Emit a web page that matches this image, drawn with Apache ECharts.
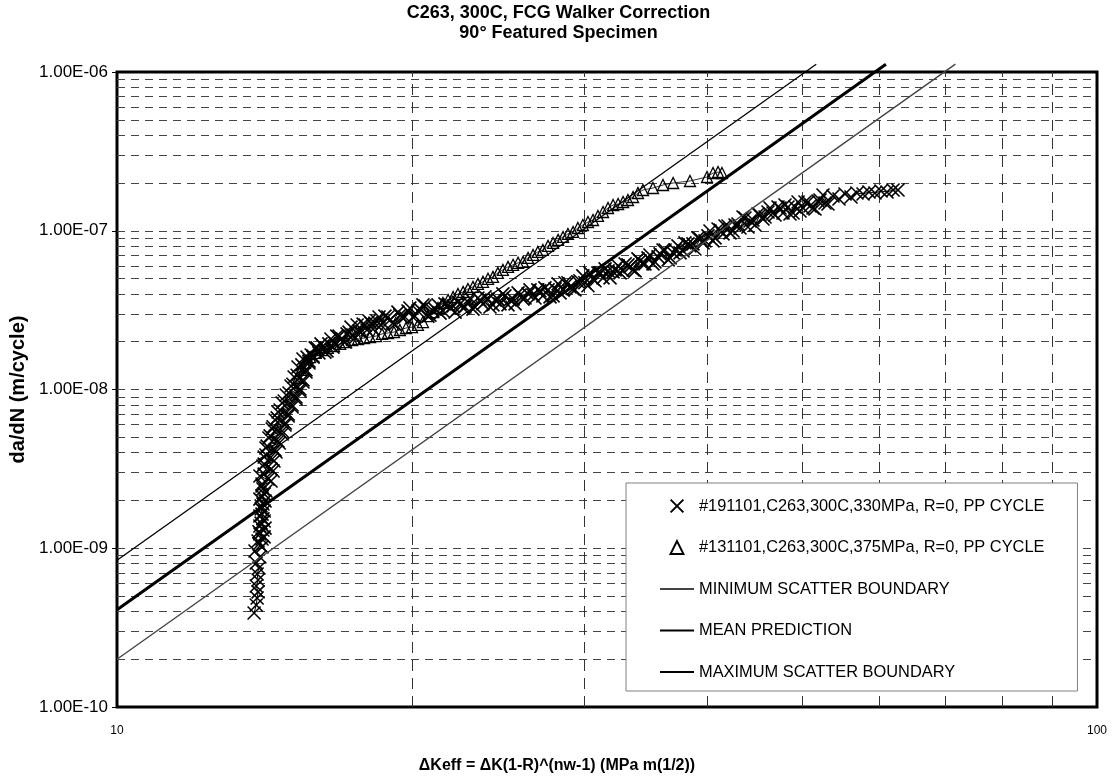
<!DOCTYPE html>
<html>
<head>
<meta charset="utf-8">
<title>C263, 300C, FCG Walker Correction</title>
<script src="https://cdn.jsdelivr.net/npm/echarts@6/dist/echarts.min.js"></script>
<style>
  html, body { margin: 0; padding: 0; background: #fff; }
  #chart { width: 1117px; height: 780px; }
</style>
</head>
<body>
<div id="chart"></div>
<script>
// Specimen #191101 (330 MPa): delta K_eff [MPa m^0.5] and da/dN [m/cycle]
const crossDK = [
  13.80, 13.87, 13.90, 13.93, 13.87, 13.93, 13.90, 13.96, 13.87, 13.99,
  13.83, 14.06, 13.93, 14.13, 13.96, 14.16, 14.03, 14.09, 14.06, 14.03,
  14.09, 13.99, 14.13, 14.09,
  14.06, 14.26, 14.13, 14.36, 14.13, 14.40, 14.19, 14.50, 14.23, 14.60,
  14.33, 14.74, 14.43, 14.85, 14.57, 14.95, 14.67, 15.09, 14.81, 15.23,
  14.98, 15.37, 15.12, 15.48, 15.27, 15.59, 15.44, 15.70, 15.63,
  15.78, 15.93, 16.07, 16.22, 16.38, 16.53, 16.68, 16.85, 17.01, 17.17,
  17.33, 17.49, 17.66, 17.83, 17.99, 18.16, 18.33, 18.51, 18.68, 18.90,
  19.12, 19.35, 19.58, 19.81, 20.04, 20.28, 20.52, 20.76, 21.01, 21.26,
  21.51, 21.77, 22.03, 22.28, 22.55, 22.81, 23.08, 23.35, 23.63, 23.91,
  24.19, 24.47, 24.76, 25.06, 25.36, 25.66, 25.96, 26.27, 26.58, 26.88,
  27.20, 27.53, 27.86, 28.19, 28.52, 28.85, 29.20, 29.53, 29.88, 30.24,
  30.60, 30.96, 31.33, 31.70, 32.08, 32.46, 32.84, 33.22, 33.62, 34.01,
  34.41, 34.82, 35.23, 35.65, 36.07, 36.51, 36.94, 37.36, 37.81, 38.25,
  38.70, 39.16, 39.63, 40.09, 40.57, 41.05, 41.53, 42.02, 42.52, 43.02,
  43.53, 44.04, 44.56, 45.09, 45.62, 46.16, 46.71, 47.26, 47.82, 48.38,
  48.96, 49.54, 50.12, 50.71, 51.31, 51.92, 52.53, 53.15, 53.78, 54.54,
  55.32, 56.10, 56.89, 57.71, 58.52, 59.35, 60.20, 61.05, 61.93, 62.65
];
const crossRate = [
  3.91e-10, 4.39e-10, 4.86e-10, 5.31e-10, 5.78e-10, 6.31e-10, 6.88e-10, 7.51e-10, 8.07e-10, 8.81e-10,
  9.61e-10, 1.02e-9, 1.11e-9, 1.18e-9, 1.27e-9, 1.34e-9, 1.44e-9, 1.53e-9, 1.64e-9, 1.77e-9,
  1.90e-9, 2.04e-9, 2.20e-9, 2.36e-9,
  2.54e-9, 2.73e-9, 2.93e-9, 3.15e-9, 3.39e-9, 3.65e-9, 3.87e-9, 4.16e-9, 4.40e-9, 4.74e-9,
  5.10e-9, 5.48e-9, 5.81e-9, 6.15e-9, 6.62e-9, 7.00e-9, 7.43e-9, 7.98e-9, 8.46e-9, 8.97e-9,
  9.51e-9, 1.007e-8, 1.08e-8, 1.15e-8, 1.23e-8, 1.33e-8, 1.43e-8, 1.51e-8, 1.60e-8,
  1.65e-8, 1.83e-8, 1.70e-8, 1.88e-8, 1.75e-8, 2.08e-8, 1.96e-8, 2.17e-8, 2.02e-8, 2.24e-8,
  2.47e-8, 2.11e-8, 2.33e-8, 2.58e-8, 2.37e-8, 2.62e-8, 2.62e-8, 2.86e-8, 2.62e-8, 2.86e-8,
  2.62e-8, 3.07e-8, 2.82e-8, 3.12e-8, 2.86e-8, 3.12e-8, 3.41e-8, 2.90e-8, 3.12e-8, 3.41e-8,
  3.12e-8, 3.41e-8, 3.36e-8, 3.56e-8, 3.26e-8, 3.56e-8, 3.21e-8, 3.77e-8, 3.46e-8, 3.71e-8,
  3.41e-8, 3.71e-8, 4.00e-8, 3.41e-8, 3.71e-8, 4.06e-8, 3.71e-8, 4.00e-8, 3.94e-8, 4.24e-8,
  3.89e-8, 4.24e-8, 3.89e-8, 4.63e-8, 4.24e-8, 4.70e-8, 4.30e-8, 4.77e-8, 5.20e-8, 4.50e-8,
  4.98e-8, 5.43e-8, 5.05e-8, 5.59e-8, 5.51e-8, 6.01e-8, 5.59e-8, 6.10e-8, 5.67e-8, 6.65e-8,
  6.19e-8, 6.75e-8, 6.19e-8, 6.84e-8, 7.57e-8, 6.55e-8, 7.25e-8, 8.03e-8, 7.46e-8, 8.26e-8,
  8.26e-8, 9.01e-8, 8.38e-8, 9.28e-8, 8.63e-8, 1.026e-7, 9.55e-8, 1.071e-7, 9.97e-8, 1.103e-7,
  1.221e-7, 1.056e-7, 1.169e-7, 1.275e-7, 1.186e-7, 1.313e-7, 1.294e-7, 1.411e-7, 1.294e-7, 1.411e-7,
  1.294e-7, 1.517e-7, 1.391e-7, 1.517e-7, 1.391e-7, 1.540e-7, 1.680e-7, 1.474e-7, 1.655e-7, 1.585e-7,
  1.704e-7, 1.632e-7, 1.729e-7, 1.704e-7, 1.754e-7, 1.729e-7, 1.780e-7, 1.754e-7, 1.806e-7, 1.806e-7
];
// Same specimen, further readings inside the dense part of the band
const crossDK2 = [
  15.85, 16.00, 16.15, 16.30, 16.45, 16.61, 16.76, 16.93, 17.09, 17.25,
  17.41, 17.58, 17.74, 17.91, 18.08, 18.25, 18.42, 18.59, 18.77, 18.99,
  19.21, 19.44, 19.67, 19.90, 20.13, 20.38, 20.62, 20.86, 21.11, 21.36,
  21.61, 21.87, 22.13, 22.39, 22.65, 22.92, 23.19, 23.46, 23.74, 24.02,
  24.30, 24.59, 24.88, 25.18, 25.48, 25.78, 26.08, 26.39, 26.70, 27.01,
  27.33, 27.66, 27.99, 28.32, 28.65, 28.99, 29.33, 29.67, 30.02, 30.38,
  30.74, 31.11, 31.48, 31.85, 32.23, 32.61, 33.00, 33.38, 33.78, 34.17,
  34.57, 34.98, 35.39, 35.82, 36.24, 36.68, 37.11, 37.54, 37.98, 38.43,
  38.88, 39.35, 39.81, 40.28, 40.76, 41.24, 41.73, 42.22, 42.72, 43.22,
  43.73, 44.25, 44.77, 45.30, 45.84, 46.38, 46.93, 47.48, 48.04, 48.61,
  49.18, 49.77, 50.36, 50.95, 51.55, 52.16, 52.78
];
const crossRate2 = [
  1.60e-8, 1.83e-8, 1.94e-8, 1.72e-8, 1.94e-8, 1.85e-8, 2.17e-8, 2.08e-8, 1.99e-8, 2.30e-8,
  2.20e-8, 2.55e-8, 2.30e-8, 2.55e-8, 2.70e-8, 2.40e-8, 2.70e-8, 2.55e-8, 2.90e-8, 2.74e-8,
  2.58e-8, 2.94e-8, 2.86e-8, 3.26e-8, 2.90e-8, 3.21e-8, 3.36e-8, 2.94e-8, 3.21e-8, 3.03e-8,
  3.46e-8, 3.26e-8, 3.07e-8, 3.46e-8, 3.31e-8, 3.77e-8, 3.31e-8, 3.66e-8, 3.83e-8, 3.31e-8,
  3.66e-8, 3.46e-8, 3.89e-8, 3.66e-8, 3.46e-8, 3.94e-8, 3.77e-8, 4.24e-8, 3.77e-8, 4.18e-8,
  4.37e-8, 3.83e-8, 4.30e-8, 4.06e-8, 4.70e-8, 4.43e-8, 4.24e-8, 4.84e-8, 4.70e-8, 5.43e-8,
  4.84e-8, 5.43e-8, 5.75e-8, 5.05e-8, 5.67e-8, 5.43e-8, 6.19e-8, 5.92e-8, 5.59e-8, 6.46e-8,
  6.19e-8, 7.04e-8, 6.37e-8, 7.15e-8, 7.57e-8, 6.75e-8, 7.57e-8, 7.25e-8, 8.38e-8, 8.03e-8,
  7.68e-8, 8.88e-8, 8.63e-8, 9.97e-8, 9.01e-8, 1.011e-7, 1.071e-7, 9.69e-8, 1.087e-7, 1.041e-7,
  1.203e-7, 1.152e-7, 1.087e-7, 1.257e-7, 1.221e-7, 1.391e-7, 1.257e-7, 1.391e-7, 1.453e-7, 1.275e-7,
  1.411e-7, 1.332e-7, 1.517e-7, 1.432e-7, 1.371e-7, 1.562e-7, 1.496e-7
];
// Same specimen, readings in the steep near-threshold part
const crossDK3 = [
  13.96, 14.06, 13.99, 14.09, 13.99, 14.13, 13.99, 14.13, 14.03, 14.16,
  14.06, 14.19, 14.06, 14.36, 13.99, 14.43, 14.09, 14.46, 14.13, 14.53,
  14.19, 14.64, 14.29, 14.74, 14.40, 14.84, 14.50, 14.95, 14.60, 15.09,
  14.74, 15.23, 14.88, 15.37, 15.05, 15.48, 15.16, 15.59, 15.30, 15.70,
  15.48, 15.85
];
const crossRate3 = [
  1.063e-9, 1.144e-9, 1.230e-9, 1.303e-9, 1.381e-9, 1.484e-9, 1.596e-9, 1.716e-9, 1.845e-9, 1.984e-9,
  2.133e-9, 2.294e-9, 2.466e-9, 2.652e-9, 2.851e-9, 3.066e-9, 3.297e-9, 3.545e-9, 3.757e-9, 4.040e-9,
  4.281e-9, 4.603e-9, 4.950e-9, 5.245e-9, 5.640e-9, 5.976e-9, 6.426e-9, 6.809e-9, 7.215e-9, 7.758e-9,
  8.222e-9, 8.712e-9, 9.235e-9, 9.785e-9, 1.052e-8, 1.115e-8, 1.199e-8, 1.289e-8, 1.386e-8, 1.469e-8,
  1.556e-8, 1.626e-8
];

// Specimen #131101 (375 MPa)
const triDK = [
  15.30, 15.41, 15.55, 15.74, 15.95, 16.18, 16.41, 16.65, 16.89, 17.13,
  17.37, 17.62, 17.87, 18.12, 18.38, 18.64, 18.90, 19.17, 19.44, 19.72,
  20.00, 20.28,
  20.52, 20.76, 21.01, 21.26, 21.51, 21.77, 22.03, 22.28, 22.55, 22.81,
  23.08, 23.35, 23.63, 23.91, 24.19, 24.47, 24.76, 25.06, 25.36, 25.66,
  25.96, 26.27, 26.58, 26.88, 27.20, 27.53, 27.86, 28.19, 28.52, 28.85,
  29.20, 29.53, 29.88, 30.24, 30.60, 30.96, 31.33, 31.70, 32.08, 32.46,
  32.84, 33.22, 33.62, 34.01, 34.41, 35.23, 36.07, 36.94, 38.43, 40.00,
  40.57, 41.05, 41.43
];
const triRate = [
  1.18e-8, 1.33e-8, 1.47e-8, 1.60e-8, 1.70e-8, 1.77e-8, 1.83e-8, 1.88e-8, 1.94e-8, 1.99e-8,
  2.05e-8, 2.08e-8, 2.11e-8, 2.14e-8, 2.17e-8, 2.24e-8, 2.27e-8, 2.30e-8, 2.37e-8, 2.44e-8,
  2.47e-8, 2.55e-8,
  2.66e-8, 2.90e-8, 3.07e-8, 3.26e-8, 3.51e-8, 3.66e-8, 3.83e-8, 4.00e-8, 4.12e-8, 4.30e-8,
  4.43e-8, 4.63e-8, 4.77e-8, 4.98e-8, 5.12e-8, 5.43e-8, 5.67e-8, 5.92e-8, 6.10e-8, 6.28e-8,
  6.37e-8, 6.75e-8, 7.04e-8, 7.36e-8, 7.57e-8, 8.03e-8, 8.38e-8, 8.76e-8, 9.14e-8, 9.55e-8,
  9.83e-8, 1.041e-7, 1.087e-7, 1.135e-7, 1.169e-7, 1.239e-7, 1.313e-7, 1.391e-7, 1.453e-7, 1.474e-7,
  1.517e-7, 1.562e-7, 1.632e-7, 1.729e-7, 1.806e-7, 1.859e-7, 1.942e-7, 1.999e-7, 2.058e-7, 2.181e-7,
  2.311e-7, 2.344e-7, 2.311e-7
];

// Walker-corrected prediction lines: [delta K, da/dN] at both ends
const minBoundary  = [[10, 2.0e-10], [71.7, 1.12e-6]];
const meanLine     = [[10, 4.1e-10], [60.9, 1.12e-6]];
const maxBoundary  = [[10, 8.4e-10], [51.7, 1.12e-6]];

// Gridlines and tick labels
const xGridValues  = [20, 30, 40, 50, 60, 70, 80, 90];
const yMantissas   = [1, 2, 3, 4, 5, 6, 7, 8, 9];
const yDecades     = [-10, -9, -8, -7];
const xTickLabels  = ['10', '100'];

const seriesNames = [
  '#191101,C263,300C,330MPa, R=0, PP CYCLE',
  '#131101,C263,300C,375MPa, R=0, PP CYCLE',
  'MINIMUM SCATTER BOUNDARY',
  'MEAN PREDICTION',
  'MAXIMUM SCATTER BOUNDARY'
];

const FONT = '"Liberation Sans", Arial, Helvetica, sans-serif';
const CROSS = 'path://M0,0L10,10M10,0L0,10';

function zip(a, b) {
  const n = Math.min(a.length, b.length);
  const out = [];
  for (let i = 0; i < n; i++) out.push([a[i], b[i]]);
  return out;
}

const yGridValues = [];
yDecades.forEach(function (d) {
  yMantissas.forEach(function (m) {
    if (d === -10 && m === 1) return; // bottom edge is the frame
    yGridValues.push(Number(m + 'e' + d));
  });
});

function sciLabel(v) {
  const e = Math.round(Math.log10(v));
  const m = v / Math.pow(10, e);
  const sign = e < 0 ? '-' : '+';
  return m.toFixed(2) + 'E' + sign + String(Math.abs(e)).padStart(2, '0');
}

function crossSeries(dk, rate) {
  return {
    name: seriesNames[0], type: 'line', z: 3, silent: true,
    data: zip(dk, rate),
    symbol: CROSS, symbolSize: 13,
    itemStyle: { color: 'transparent', borderColor: '#000', borderWidth: 1.6 },
    lineStyle: { color: '#000', width: 1 }
  };
}

const chart = echarts.init(document.getElementById('chart'), null, { renderer: 'canvas' });

const option = {
  animation: false,
  backgroundColor: '#fff',
  textStyle: { fontFamily: FONT },
  title: {
    text: 'C263, 300C, FCG Walker Correction\n90° Featured Specimen',
    left: 'center',
    top: 3,
    padding: 0,
    textStyle: { fontFamily: FONT, fontSize: 18, fontWeight: 'bold', color: '#000', lineHeight: 20 }
  },
  grid: {
    left: 117, top: 72, width: 980, height: 635,
    show: true, borderColor: '#000', borderWidth: 3, backgroundColor: 'transparent'
  },
  legend: {
    orient: 'vertical',
    left: 626, top: 483,
    backgroundColor: '#fff',
    borderColor: '#808080', borderWidth: 1, borderRadius: 0,
    padding: [15, 33, 11, 33],
    itemWidth: 34, itemHeight: 16, itemGap: 25.5,
    selectedMode: false,
    z: 10,
    textStyle: { fontFamily: FONT, fontSize: 16.4, color: '#000', lineHeight: 16 },
    data: [
      { name: seriesNames[0], lineStyle: { opacity: 0 } },
      { name: seriesNames[1], lineStyle: { opacity: 0 } },
      { name: seriesNames[2], itemStyle: { opacity: 0 } },
      { name: seriesNames[3], itemStyle: { opacity: 0 } },
      { name: seriesNames[4], itemStyle: { opacity: 0 } }
    ]
  },
  xAxis: {
    type: 'log', logBase: 10, min: 10, max: 100,
    name: 'ΔKeff = ΔK(1-R)^(nw-1) (MPa m(1/2))',
    nameLocation: 'middle', nameGap: 51,
    nameTextStyle: {
      fontFamily: FONT, fontSize: 16, fontWeight: 'bold', color: '#000',
      padding: [0, 100, 0, 0]
    },
    axisLine: { show: false },
    axisTick: { show: false },
    splitLine: { show: false },
    axisLabel: {
      margin: 18, fontSize: 12, color: '#000', fontFamily: FONT,
      formatter: function (v) {
        const s = String(Math.round(v));
        return xTickLabels.indexOf(s) >= 0 ? s : '';
      }
    }
  },
  yAxis: {
    type: 'log', logBase: 10, min: 1e-10, max: 1e-6,
    name: 'da/dN (m/cycle)',
    nameLocation: 'middle', nameGap: 88, nameRotate: 90,
    nameTextStyle: { fontFamily: FONT, fontSize: 20, fontWeight: 'bold', color: '#000' },
    axisLine: { show: false },
    axisTick: { show: true, length: 5, lineStyle: { color: '#000', width: 1 } },
    splitLine: { show: false },
    axisLabel: {
      margin: 9, fontSize: 17, color: '#000', fontFamily: FONT,
      formatter: sciLabel
    }
  },
  series: [
    {
      // dashed gridlines
      type: 'line', name: 'grid', data: [], silent: true, z: 1,
      markLine: {
        silent: true, symbol: ['none', 'none'], animation: false,
        precision: 20, z: 1,
        label: { show: false },
        emphasis: { disabled: true },
        data: yGridValues.map(function (v) {
          return { yAxis: v, lineStyle: { color: '#444', width: 1, type: [8, 6] } };
        }).concat(xGridValues.map(function (v) {
          return { xAxis: v, lineStyle: { color: '#333', width: 1, type: [11, 7] } };
        }))
      }
    },
    crossSeries(crossDK, crossRate),
    crossSeries(crossDK2, crossRate2),
    crossSeries(crossDK3, crossRate3),
    {
      name: seriesNames[1], type: 'line', z: 4,
      data: zip(triDK, triRate),
      symbol: 'triangle', symbolSize: 11,
      itemStyle: { color: 'transparent', borderColor: '#000', borderWidth: 1.3 },
      lineStyle: { color: '#000', width: 0.8 },
      silent: true
    },
    {
      name: seriesNames[2], type: 'line', z: 5, clip: false,
      data: minBoundary, symbol: 'none',
      lineStyle: { color: '#444', width: 1.4 }, itemStyle: { color: '#444' },
      silent: true
    },
    {
      name: seriesNames[3], type: 'line', z: 5, clip: false,
      data: meanLine, symbol: 'none',
      lineStyle: { color: '#000', width: 3 }, itemStyle: { color: '#000' },
      silent: true
    },
    {
      name: seriesNames[4], type: 'line', z: 5, clip: false,
      data: maxBoundary, symbol: 'none',
      lineStyle: { color: '#000', width: 1.3 }, itemStyle: { color: '#000' },
      silent: true
    }
  ]
};

chart.setOption(option);
</script>
</body>
</html>
